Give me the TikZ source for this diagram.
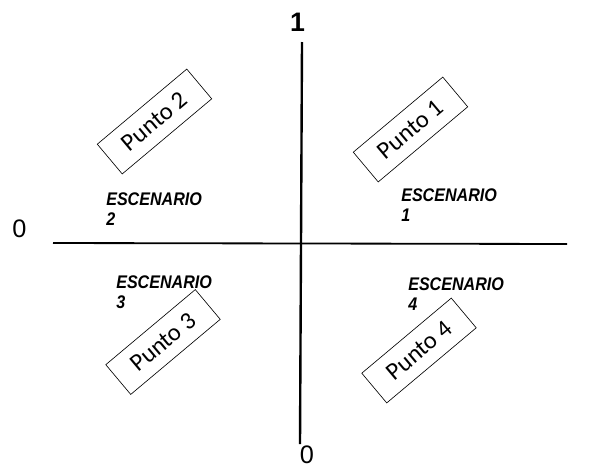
\documentclass[tikz,border=0pt]{standalone}
\usepackage{fontspec}
\setmainfont{Liberation Sans}
\newfontfamily\puntofont{Carlito}
\newfontfamily\escfont[FakeStretch=0.88]{Liberation Sans}
\usetikzlibrary{positioning}

\begin{document}
\begin{tikzpicture}[x=0.025cm, y=-0.025cm,
  punto/.style={draw, line width=0.45pt, rotate=40, minimum width=2.92cm, minimum height=0.97cm, inner sep=0pt, font=\puntofont\fontsize{17.5}{20}\selectfont},
  escenario/.style={anchor=north west, inner sep=0pt, align=left, font=\escfont\bfseries\itshape\fontsize{13}{12.5}\selectfont},
  eje/.style={line width=1.3pt},
  valor/.style={inner sep=0pt, font=\fontsize{18}{20}\selectfont}
]
\useasboundingbox (0,0) rectangle (598,468);

% ejes
\coordinate (izq) at (53,243);
\coordinate (der) at (567,244);
\coordinate (arr) at (302,42);
\coordinate (aba) at (300,444);
\draw[eje] (izq) -- (der);
\draw[eje, line width=1.7pt] (arr) -- (aba);

\node[valor, font=\bfseries\fontsize{19}{21}\selectfont] (uno) at (297.5,22.5) {1};
\node[valor] (cero-izq) at (19.5,229) {0};
\node[valor] (cero-aba) at (307,455) {0};

% puntos
\node[punto] (p1) at (410.5,129.5) {Punto 1};
\node[punto] (p2) at (154.5,121.5) {Punto 2};
\node[punto] (p3) at (163,342) {Punto 3};
\node[punto] (p4) at (419,350.5) {Punto 4};

% escenarios
\node[escenario] (e1) at (401,188) {ESCENARIO\\[2pt]1};
\node[escenario] (e2) at (106,192) {ESCENARIO\\[2pt]2};
\node[escenario] (e3) at (116,275) {ESCENARIO\\[2pt]3};
\node[escenario] (e4) at (408,277) {ESCENARIO\\[2pt]4};
\end{tikzpicture}
\end{document}
